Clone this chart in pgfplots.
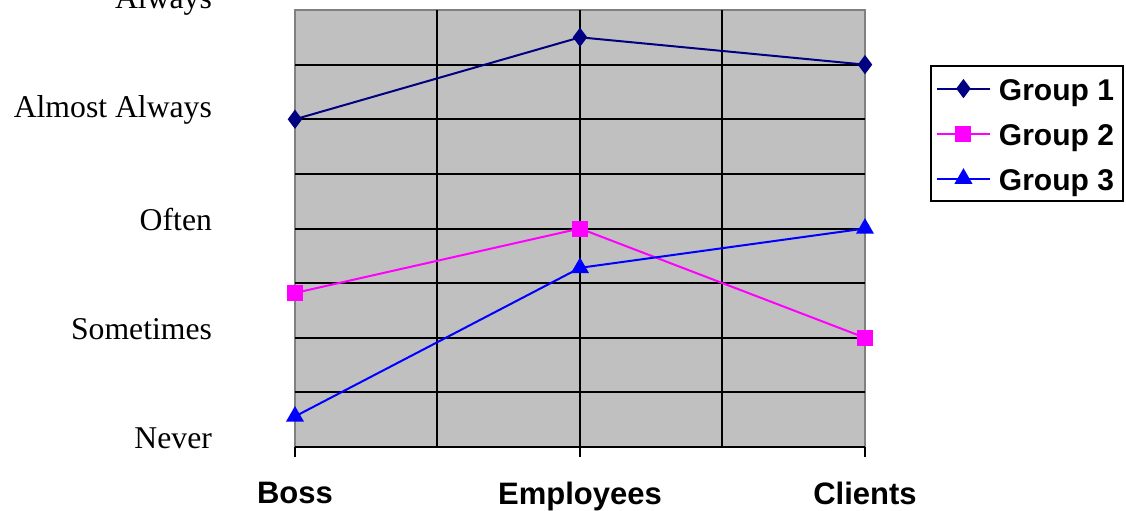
\documentclass[border=0pt]{standalone}
\usepackage{fontspec}
\setmainfont{Liberation Serif}
\newfontfamily\arial{Liberation Sans}
\usepackage{pgfplots}
\pgfplotsset{compat=1.18}
\definecolor{bgray}{RGB}{192,192,192}
\definecolor{bordergray}{RGB}{128,128,128}
\definecolor{gnavy}{RGB}{0,0,128}
\definecolor{gmag}{RGB}{255,0,255}
\definecolor{gblue}{RGB}{0,0,255}
\begin{document}
\begin{tikzpicture}
\begin{axis}[
  scale only axis,
  width=285pt, height=218.5pt,
  xmin=0, xmax=2, ymin=1, ymax=5,
  xtick={0,1,2},
  xticklabels={Boss,Employees,Clients},
  ytick={1,2,3,4,5},
  yticklabels={Never,Sometimes,Often,Almost Always,Always},
  minor xtick={0.5,1,1.5},
  minor ytick={1,1.5,2,2.5,3,3.5,4,4.5},
  minor grid style={black, line width=1pt},
  xminorgrids=true, yminorgrids=true,
  minor tick length=0pt,
  major tick length=5pt,
  tick align=outside,
  xtick pos=bottom,
  ytick pos=left,
  xtick style={black, line width=1pt},
  ytick style={draw=none},
  axis line style={draw=none},
  axis background/.style={fill=bgray, draw=bordergray, line width=1pt},
  xticklabel style={font=\arial\bfseries\fontsize{15.5}{18}\selectfont, yshift=-9pt},
  yticklabel style={font=\fontsize{15.85}{19}\selectfont, anchor=east, xshift=-33pt, yshift=4.5pt},
  legend cell align=left,
  legend style={at={(1.114,0.874)}, anchor=north west, draw=black, line width=1pt,
    font=\arial\bfseries\fontsize{15}{18}\selectfont,
    nodes={inner sep=2pt, text height=13pt, text depth=1.5pt},
    row sep=4pt, inner xsep=2.5pt, inner ysep=2pt},
  legend image code/.code={\draw[#1, mark repeat=2, mark phase=2, line width=1pt] plot coordinates {(0pt,0pt) (13.25pt,0pt) (26.5pt,0pt)}; \path (28.5pt,0pt);},
]
\addplot[gnavy, line width=1pt, mark=diamond*, mark size=4pt, mark options={solid, fill=gnavy}] coordinates {(0,4.0) (1,4.75) (2,4.5)};
\addlegendentry{Group 1}
\addplot[gmag, line width=1pt, mark=square*, mark size=3.5pt, mark options={solid, fill=gmag}] coordinates {(0,2.41) (1,3.0) (2,2.0)};
\addlegendentry{Group 2}
\addplot[gblue, line width=1pt, mark=triangle*, mark size=4.2pt, mark options={solid, fill=gblue}] coordinates {(0,1.28) (1,2.64) (2,3.0)};
\addlegendentry{Group 3}
\coordinate (O) at (rel axis cs:0,0);
\end{axis}
\pgfresetboundingbox
\path (O) ++(-147.5pt,-31.5pt) rectangle ++(563pt,255pt);
\end{tikzpicture}
\end{document}
